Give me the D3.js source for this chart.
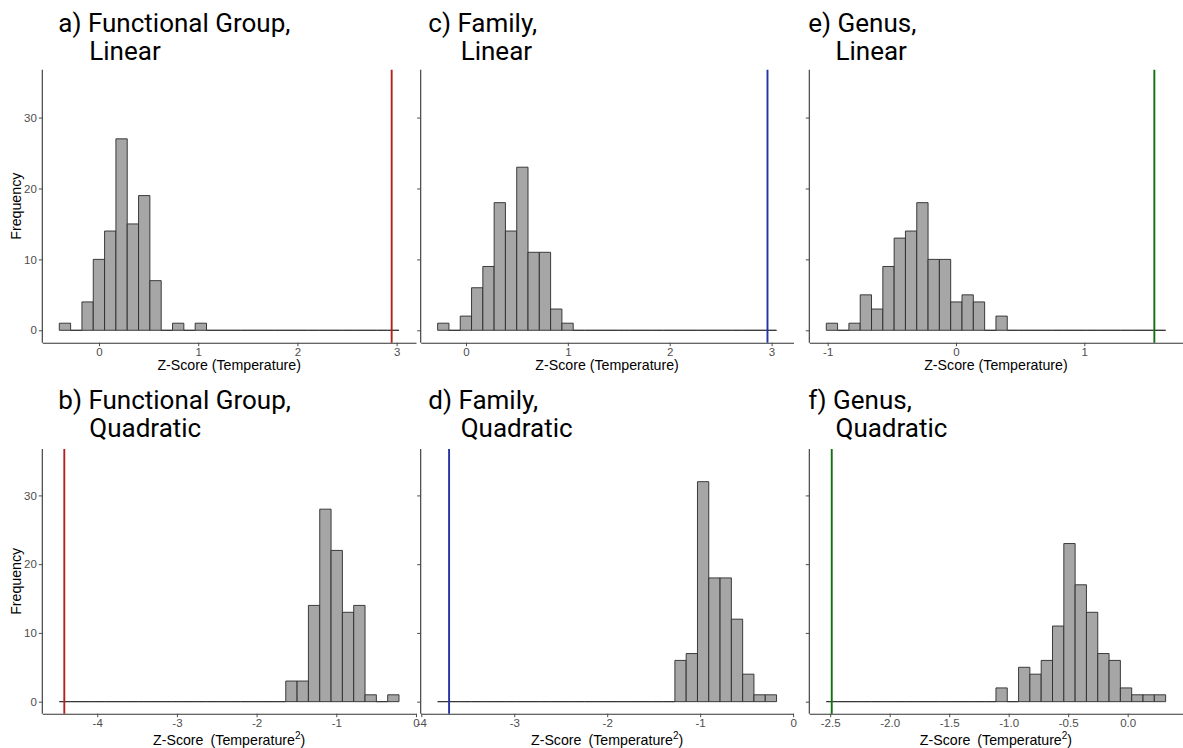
<!DOCTYPE html>
<html>
<head>
<meta charset="utf-8">
<script src="https://cdn.jsdelivr.net/npm/d3@7"></script>
<style>
  html, body { margin: 0; padding: 0; background: #fff; }
  svg { display: block; }
</style>
</head>
<body>
<svg id="chart" width="1183" height="748"></svg>
<script>
// Null-distribution histograms of z-scores (30 bins each) with the observed value marked.
const yTicks = [0, 10, 20, 30];
const yMax = 35;

// a) Functional Group, Linear
const countsA = [1,0,4,10,14,27,15,19,7,0,1,0,1,0,0,0,0,0,0,0,0,0,0,0,0,0,0,0,0,0];
const binRangeA = [-0.400, 3.024];
const observedA = 2.95;
const ticksA = [0, 1, 2, 3];

// c) Family, Linear
const countsC = [1,0,2,6,9,18,14,23,11,11,3,1,0,0,0,0,0,0,0,0,0,0,0,0,0,0,0,0,0,0];
const binRangeC = [-0.278, 3.049];
const observedC = 2.96;
const ticksC = [0, 1, 2, 3];

// e) Genus, Linear
const countsE = [1,0,1,5,3,9,13,14,18,10,10,4,5,4,0,2,0,0,0,0,0,0,0,0,0,0,0,0,0,0];
const binRangeE = [-1.011, 1.634];
const observedE = 1.546;
const ticksE = [-1, 0, 1];

// b) Functional Group, Quadratic
const countsB = [0,0,0,0,0,0,0,0,0,0,0,0,0,0,0,0,0,0,0,0,3,3,14,28,22,13,14,1,0,1];
const binRangeB = [-4.476, -0.213];
const observedB = -4.413;
const ticksB = [-4, -3, -2, -1, 0];

// d) Family, Quadratic
const countsD = [0,0,0,0,0,0,0,0,0,0,0,0,0,0,0,0,0,0,0,0,0,6,7,32,18,18,12,4,1,1];
const binRangeD = [-3.824, -0.178];
const observedD = -3.701;
const ticksD = [-4, -3, -2, -1, 0];

// f) Genus, Quadratic
const countsF = [0,0,0,0,0,0,0,0,0,0,0,0,0,0,0,2,0,5,4,6,11,23,17,13,7,6,2,1,1,1];
const binRangeF = [-2.533, 0.319];
const observedF = -2.487;
const ticksF = [-2.5, -2.0, -1.5, -1.0, -0.5, 0.0];

const titlesLine1 = ["a) Functional Group,", "c) Family,", "e) Genus,", "b) Functional Group,", "d) Family,", "f) Genus,"];
const titlesLine2 = ["Linear", "Linear", "Linear", "Quadratic", "Quadratic", "Quadratic"];
const lineColors = ["#b0231c", "#2434a6", "#137013", "#b0231c", "#2434a6", "#137013"];

const svg = d3.select("#chart");
const axisFont = "'Liberation Sans', Arial, sans-serif";
const titleFont = "Roboto, 'Noto Sans', sans-serif";

// Panel frames (plot area) and text placements
const cols = [
  { x0: 42.3, x1: 416.0, t1: 58.3, t2: 89.3 },
  { x0: 420.7, x1: 793.5, t1: 428.3, t2: 460.7 },
  { x0: 809.3, x1: 1182.6, t1: 808.3, t2: 835.5 }
];
const rows = [
  { y0: 69.7, y1: 342.7, tb1: 31.7, tb2: 60.0, xtitle: 369.5, quad: false },
  { y0: 449.0, y1: 713.7, tb1: 409.3, tb2: 436.5, xtitle: 744.5, quad: true }
];

const panels = [
  { counts: countsA, range: binRangeA, obs: observedA, ticks: ticksA, col: 0, row: 0, fmt: d => String(d) },
  { counts: countsC, range: binRangeC, obs: observedC, ticks: ticksC, col: 1, row: 0, fmt: d => String(d) },
  { counts: countsE, range: binRangeE, obs: observedE, ticks: ticksE, col: 2, row: 0, fmt: d => String(d) },
  { counts: countsB, range: binRangeB, obs: observedB, ticks: ticksB, col: 0, row: 1, fmt: d => String(d) },
  { counts: countsD, range: binRangeD, obs: observedD, ticks: ticksD, col: 1, row: 1, fmt: d => String(d) },
  { counts: countsF, range: binRangeF, obs: observedF, ticks: ticksF, col: 2, row: 1, fmt: d => d.toFixed(1) }
];

panels.forEach((p, i) => {
  const c = cols[p.col], r = rows[p.row];
  const [lo, hi] = p.range;
  const pad = 0.05 * (hi - lo);
  const x = d3.scaleLinear().domain([lo - pad, hi + pad]).range([c.x0, c.x1]);
  const y = d3.scaleLinear().domain([-0.05 * yMax, 1.05 * yMax]).range([r.y1, r.y0]);
  const n = p.counts.length;
  const w = (hi - lo) / n;
  const bins = p.counts.map((v, k) => ({ a: lo + k * w, b: lo + (k + 1) * w, v }));

  const g = svg.append("g");

  // bars (zero-count bins collapse to a flat outline)
  g.selectAll("path.bar").data(bins).enter().append("path")
    .attr("class", "bar")
    .attr("d", d => `M${x(d.a)},${y(0)}V${y(d.v)}H${x(d.b)}V${y(0)}Z`)
    .attr("fill", d => d.v > 0 ? "#a6a6a6" : "none")
    .attr("stroke", "#2a2a2a")
    .attr("stroke-width", 0.9);

  // observed value
  g.append("line")
    .attr("x1", x(p.obs)).attr("x2", x(p.obs))
    .attr("y1", r.y0).attr("y2", r.y1)
    .attr("stroke", lineColors[i]).attr("stroke-width", 1.9);

  // x axis
  const xa = g.append("g").attr("transform", `translate(0,${r.y1})`)
    .call(d3.axisBottom(x).tickValues(p.ticks).tickFormat(p.fmt).tickSizeInner(3.5).tickSizeOuter(0).tickPadding(2));
  // y axis
  const ya = g.append("g").attr("transform", `translate(${c.x0},0)`)
    .call(d3.axisLeft(y).tickValues(yTicks).tickSizeInner(3.5).tickSizeOuter(0).tickPadding(2)
      .tickFormat(p.col === 0 ? d => String(d) : () => ""));
  [xa, ya].forEach(ax => {
    ax.select(".domain").attr("stroke", "#333").attr("stroke-width", 1.1);
    ax.selectAll(".tick line").attr("stroke", "#4d4d4d").attr("stroke-width", 1);
    ax.selectAll(".tick text").attr("fill", "#4d4d4d")
      .attr("font-family", axisFont).attr("font-size", 11.5);
  });
  ya.select(".domain").attr("d", `M0,${r.y0}V${r.y1}`);

  // x axis title
  const cx = (c.x0 + c.x1) / 2;
  const xt = g.append("text")
    .attr("x", cx).attr("y", r.xtitle)
    .attr("text-anchor", "middle")
    .attr("font-family", axisFont).attr("font-size", 14.2).attr("fill", "#000");
  if (r.quad) {
    xt.append("tspan").text("Z-Score\u2002(Temperature");
    xt.append("tspan").attr("dy", -6).attr("font-size", 10).text("2");
    xt.append("tspan").attr("dy", 6).text(")");
  } else {
    xt.text("Z-Score (Temperature)");
  }

  // y axis title (first column only)
  if (p.col === 0) {
    g.append("text")
      .attr("transform", `translate(21,${(r.y0 + r.y1) / 2}) rotate(-90)`)
      .attr("text-anchor", "middle")
      .attr("font-family", axisFont).attr("font-size", 14.2).attr("fill", "#000")
      .text("Frequency");
  }

  // panel title
  g.append("text").attr("x", c.t1).attr("y", r.tb1)
    .attr("font-family", titleFont).attr("font-size", 26).attr("fill", "#000")
    .text(titlesLine1[i]);
  g.append("text").attr("x", c.t2).attr("y", r.tb2)
    .attr("font-family", titleFont).attr("font-size", 26).attr("fill", "#000")
    .text(titlesLine2[i]);
});
</script>
</body>
</html>
